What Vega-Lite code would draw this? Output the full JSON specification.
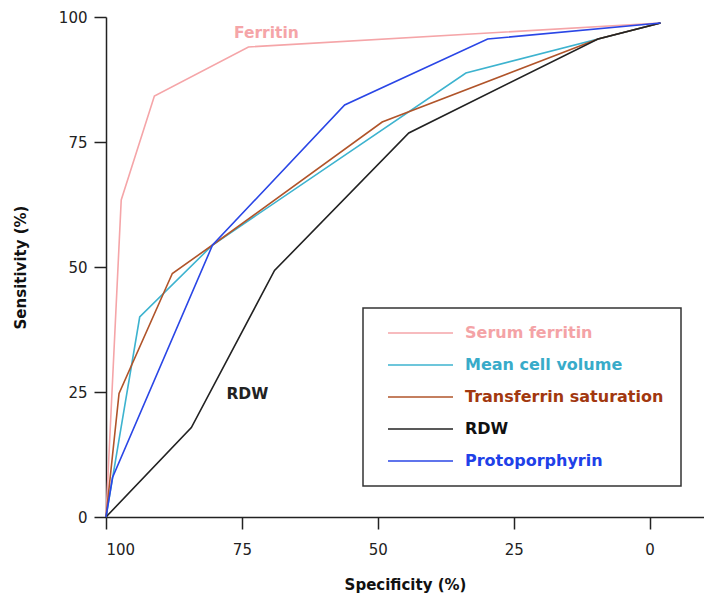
{
  "$schema": "https://vega.github.io/schema/vega-lite/v6.json",
  "autosize": "none",
  "width": 598,
  "height": 500,
  "padding": {"left": 106, "top": 17, "right": 0, "bottom": 82},
  "background": "white",
  "datasets": {
    "roc": [
      {"series": "Serum ferritin", "i": 0, "spec": 100, "sens": 0},
      {"series": "Serum ferritin", "i": 1, "spec": 97.2, "sens": 63.4},
      {"series": "Serum ferritin", "i": 2, "spec": 91.1, "sens": 84.2},
      {"series": "Serum ferritin", "i": 3, "spec": 73.8, "sens": 94.0},
      {"series": "Serum ferritin", "i": 4, "spec": -2, "sens": 98.8},
      {"series": "Mean cell volume", "i": 0, "spec": 100, "sens": 0},
      {"series": "Mean cell volume", "i": 1, "spec": 93.8, "sens": 40.0},
      {"series": "Mean cell volume", "i": 2, "spec": 80.4, "sens": 54.4},
      {"series": "Mean cell volume", "i": 3, "spec": 33.8, "sens": 88.8},
      {"series": "Mean cell volume", "i": 4, "spec": -2, "sens": 98.8},
      {"series": "Transferrin saturation", "i": 0, "spec": 100, "sens": 0},
      {"series": "Transferrin saturation", "i": 1, "spec": 97.6, "sens": 24.7},
      {"series": "Transferrin saturation", "i": 2, "spec": 87.8, "sens": 48.7},
      {"series": "Transferrin saturation", "i": 3, "spec": 80.4, "sens": 54.4},
      {"series": "Transferrin saturation", "i": 4, "spec": 49.2, "sens": 79.0},
      {"series": "Transferrin saturation", "i": 5, "spec": 9.5, "sens": 95.6},
      {"series": "Transferrin saturation", "i": 6, "spec": -2, "sens": 98.8},
      {"series": "RDW", "i": 0, "spec": 100, "sens": 0},
      {"series": "RDW", "i": 1, "spec": 84.3, "sens": 17.9},
      {"series": "RDW", "i": 2, "spec": 69.0, "sens": 49.3},
      {"series": "RDW", "i": 3, "spec": 44.3, "sens": 76.8},
      {"series": "RDW", "i": 4, "spec": 9.5, "sens": 95.6},
      {"series": "RDW", "i": 5, "spec": -2, "sens": 98.8},
      {"series": "Protoporphyrin", "i": 0, "spec": 100, "sens": 0},
      {"series": "Protoporphyrin", "i": 1, "spec": 98.8, "sens": 7.9},
      {"series": "Protoporphyrin", "i": 2, "spec": 80.4, "sens": 54.4},
      {"series": "Protoporphyrin", "i": 3, "spec": 56.1, "sens": 82.4},
      {"series": "Protoporphyrin", "i": 4, "spec": 29.8, "sens": 95.6},
      {"series": "Protoporphyrin", "i": 5, "spec": -2, "sens": 98.8}
    ],
    "notes": [
      {"text": "Ferritin", "spec": 70.5, "sens": 96.8, "series": "Serum ferritin"},
      {"text": "RDW", "spec": 74.0, "sens": 24.7, "series": "RDW"}
    ]
  },
  "layer": [
    {
      "data": {"name": "roc"},
      "mark": {"type": "line", "strokeWidth": 1.6},
      "encoding": {
        "x": {
          "field": "spec", "type": "quantitative",
          "scale": {"domain": [100, -10], "nice": false, "zero": false},
          "axis": {"values": [100, 75, 50, 25, 0], "title": "Specificity (%)", "grid": false, "labelPadding": 13, "titlePadding": 20}
        },
        "y": {
          "field": "sens", "type": "quantitative",
          "scale": {"domain": [0, 100], "nice": false},
          "axis": {"values": [0, 25, 50, 75, 100], "title": "Sensitivity (%)", "grid": false, "labelPadding": 7, "titlePadding": 30}
        },
        "color": {
          "field": "series", "type": "nominal",
          "scale": {
            "domain": ["Serum ferritin", "Mean cell volume", "Transferrin saturation", "RDW", "Protoporphyrin"],
            "range": ["#f5a5a8", "#3db3cf", "#b0542a", "#222222", "#2a46e6"]
          },
          "legend": {
            "orient": "none",
            "legendX": 257,
            "legendY": 291,
            "title": null,
            "symbolType": "stroke",
            "symbolSize": 4225,
            "symbolStrokeWidth": 1.6,
            "labelFont": "DejaVu Sans",
            "labelFontSize": 16,
            "labelFontWeight": "bold",
            "labelLimit": 400,
            "strokeColor": "#333333",
            "fillColor": "white",
            "padding": 17,
            "clipHeight": 16,
            "symbolOffset": 7,
            "labelOffset": 11,
            "rowPadding": 16,
            "encoding": {
              "labels": {
                "fill": {
                  "condition": [
                    {"test": "datum.value === 'Serum ferritin'", "value": "#f4a3a6"},
                    {"test": "datum.value === 'Mean cell volume'", "value": "#38abc9"},
                    {"test": "datum.value === 'Transferrin saturation'", "value": "#a2380f"},
                    {"test": "datum.value === 'Protoporphyrin'", "value": "#2040e8"}
                  ],
                  "value": "#111111"
                }
              }
            }
          }
        },
        "order": {"field": "i", "type": "quantitative"}
      }
    },
    {
      "data": {"name": "notes"},
      "mark": {"type": "text", "font": "DejaVu Sans", "fontWeight": "bold", "fontSize": 15.5},
      "encoding": {
        "x": {"field": "spec", "type": "quantitative"},
        "y": {"field": "sens", "type": "quantitative"},
        "text": {"field": "text"},
        "color": {
          "field": "series", "type": "nominal",
          "scale": {
            "domain": ["Serum ferritin", "Mean cell volume", "Transferrin saturation", "RDW", "Protoporphyrin"],
            "range": ["#f5a5a8", "#3db3cf", "#b0542a", "#222222", "#2a46e6"]
          },
          "legend": null
        }
      }
    }
  ],
  "config": {
    "view": {"stroke": null},
    "axis": {
      "domainColor": "#222222",
      "domainWidth": 1.5,
      "tickColor": "#222222",
      "tickWidth": 1.5,
      "tickSize": 12,
      "labelFont": "DejaVu Sans",
      "labelFontSize": 15,
      "labelColor": "#222222",
      "titleFont": "DejaVu Sans",
      "titleFontSize": 15,
      "titleFontWeight": "bold",
      "titleColor": "#111111"
    },
    "legend": {"strokeWidth": 1.5}
  }
}
